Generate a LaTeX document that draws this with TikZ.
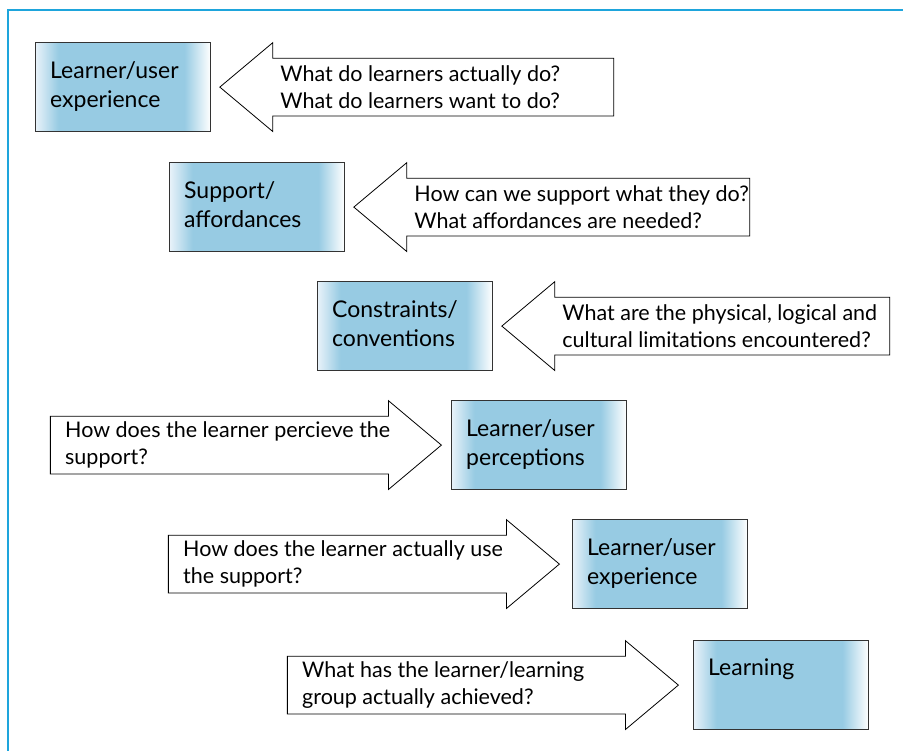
\documentclass[tikz,border=0pt]{standalone}
\usepackage{fontspec}
\setmainfont{Lato}
\usepackage{tikz}
\usetikzlibrary{positioning,shapes.arrows}
\definecolor{framecol}{RGB}{30,165,220}
\definecolor{boxmid}{RGB}{151,203,227}
\definecolor{boxedge}{RGB}{232,242,249}
\pgfdeclarehorizontalshading{boxfade}{100bp}{color(0bp)=(boxedge); color(25bp)=(boxedge); color(31.5bp)=(boxmid); color(67.5bp)=(boxmid); color(75bp)=(white); color(100bp)=(white)}
\tikzset{
  box/.style={rectangle, draw=black!80, line width=1.2pt, shade, shading=boxfade, anchor=north west, minimum width=175pt, minimum height=89pt, inner sep=0pt},
  boxtext/.style={align=left, inner sep=0pt, font=\fontsize{23}{29}\selectfont},
  qarrow/.style={single arrow, draw, fill=white, line width=0.8pt, minimum width=88pt, minimum height=391pt, single arrow head extend=15.5pt, single arrow tip angle=80, single arrow head indent=0pt, inner xsep=0pt, inner ysep=28.5pt},
  qleft/.style={qarrow, shape border rotate=180},
  qright/.style={qarrow},
  qtext/.style={align=left, inner sep=0pt, anchor=west, font=\fontsize{21.5}{27}\selectfont}
}
\begin{document}
\begin{tikzpicture}[x=1pt, y=-1pt]
  \useasboundingbox (0,0) rectangle (903,751);
  \draw[framecol, line width=2pt] (8,751) -- (8,10) -- (903,10);

  \node[box] (exper) at (35,42) {};
  \node[box] (afford) at (169,162) {};
  \node[box] (constr) at (317,281) {};
  \node[box] (percep) at (451,400) {};
  \node[box] (useexp) at (572,519) {};
  \node[box] (learn) at (693,640) {};

  \node[boxtext, below right=19pt and 15pt of exper.north west] (exper-t) {Learner/user\\experience};
  \node[boxtext, below right=19pt and 15pt of afford.north west] (afford-t) {Support/\\affordances};
  \node[boxtext, below right=19pt and 15pt of constr.north west] (constr-t) {Constraints/\\conventions};
  \node[boxtext, below right=19pt and 15pt of percep.north west] (percep-t) {Learner/user\\perceptions};
  \node[boxtext, below right=19pt and 15pt of useexp.north west] (useexp-t) {Learner/user\\experience};
  \node[boxtext, below right=19pt and 15pt of learn.north west] (learn-t) {Learning};

  \node[qleft, minimum height=394pt, right=8pt of exper, anchor=tip] (askdo) {};
  \node[qleft, minimum height=396pt, right=8pt of afford, anchor=tip] (asksupport) {};
  \node[qleft, minimum height=388pt, right=8pt of constr, anchor=tip] (asklimits) {};
  \node[qright, left=9pt of percep, anchor=tip] (askperceive) {};
  \node[qright, left=12pt of useexp, anchor=tip] (askuse) {};
  \node[qright, left=14pt of learn, anchor=tip] (askachieved) {};

  \node[qtext, right=61pt of askdo.tip] (askdo-t) {What do learners actually do?\\What do learners want to do?};
  \node[qtext, right=61pt of asksupport.tip] (asksupport-t) {How can we support what they do?\\What affordances are needed?};
  \node[qtext, right=61pt of asklimits.tip] (asklimits-t) {What are the physical, logical and\\cultural limitations encountered?};
  \node[qtext, right=15pt of askperceive.tail] (askperceive-t) {How does the learner percieve the\\support?};
  \node[qtext, right=15pt of askuse.tail] (askuse-t) {How does the learner actually use\\the support?};
  \node[qtext, right=15pt of askachieved.tail] (askachieved-t) {What has the learner/learning\\group actually achieved?};
\end{tikzpicture}
\end{document}
